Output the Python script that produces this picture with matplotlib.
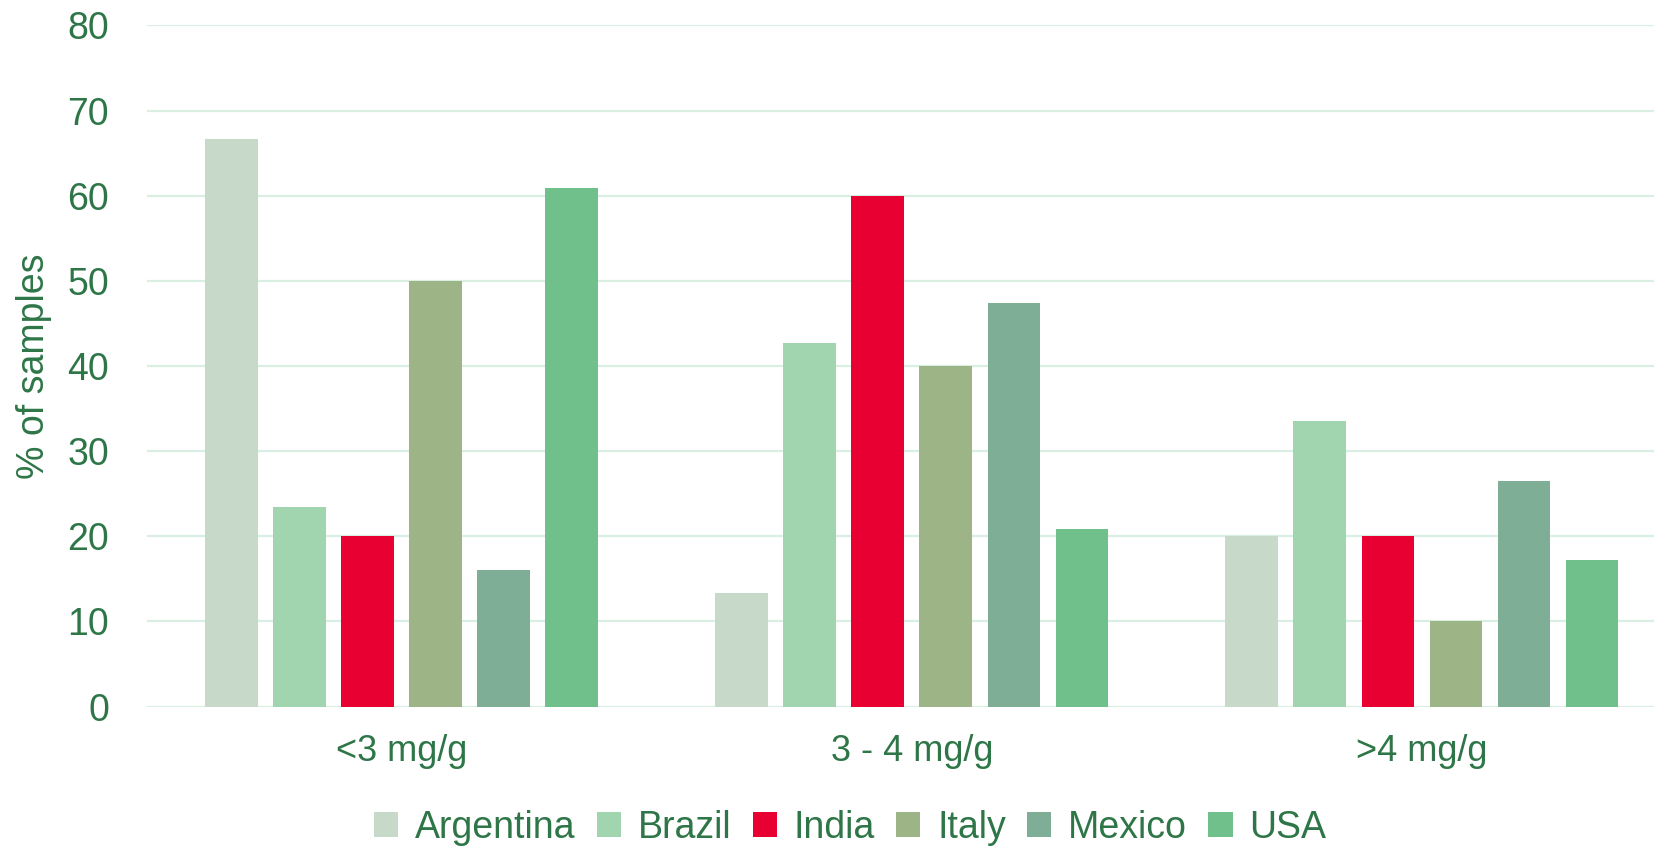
import numpy as np
import matplotlib.pyplot as plt
from matplotlib.patches import Patch

plt.rcParams['font.family'] = ['Liberation Sans', 'DejaVu Sans']

categories = ['<3 mg/g', '3 - 4 mg/g', '>4 mg/g']
countries = ['Argentina', 'Brazil', 'India', 'Italy', 'Mexico', 'USA']
argentina = [66.7, 13.3, 20.0]
brazil = [23.4, 42.7, 33.6]
india = [20.0, 60.0, 20.0]
italy = [50.0, 40.0, 10.0]
mexico = [16.1, 47.4, 26.5]
usa = [60.9, 20.9, 17.2]
yticks = [0, 10, 20, 30, 40, 50, 60, 70, 80]

colors = ['#C7D9C8', '#A1D5B0', '#E80033', '#9DB487', '#7FAE96', '#70C08B']
text_color = '#2E7647'
grid_color = '#D9EFE1'

series = [argentina, brazil, india, italy, mexico, usa]

fig = plt.figure(figsize=(16.54, 8.49), dpi=100)
ax = fig.add_axes([0.0887, 0.1677, 0.9113, 0.8023])

x = np.arange(len(categories))
width = 0.1034
step = 0.1334
for i, (vals, color) in enumerate(zip(series, colors)):
    offset = (i - (len(series) - 1) / 2) * step
    ax.bar(x + offset, vals, width=width, color=color, zorder=3)

ax.set_xlim(-0.5, 2.455)
ax.set_ylim(0, 80)
ax.set_yticks(yticks)
ax.set_xticks(x)
ax.set_xticklabels(categories, fontsize=26)
ax.grid(axis='y', color=grid_color, linewidth=1.6, zorder=0)
ax.set_axisbelow(True)
for s in ax.spines.values():
    s.set_visible(False)
ax.tick_params(axis='both', length=0, colors=text_color)
ax.tick_params(axis='y', pad=27, labelsize=27)
ax.tick_params(axis='x', pad=20)
ax.set_ylabel('% of samples', fontsize=27, color=text_color, labelpad=11)

handles = [Patch(facecolor=c, label=l) for c, l in zip(colors, countries)]
leg = fig.legend(handles=handles, loc='center', bbox_to_anchor=(0.514, 0.025), ncol=6,
                 frameon=False, fontsize=27, handlelength=0.65, handleheight=0.65,
                 handletextpad=0.45, columnspacing=0.56)
for t in leg.get_texts():
    t.set_color(text_color)

fig.savefig('out.png', dpi=100)
